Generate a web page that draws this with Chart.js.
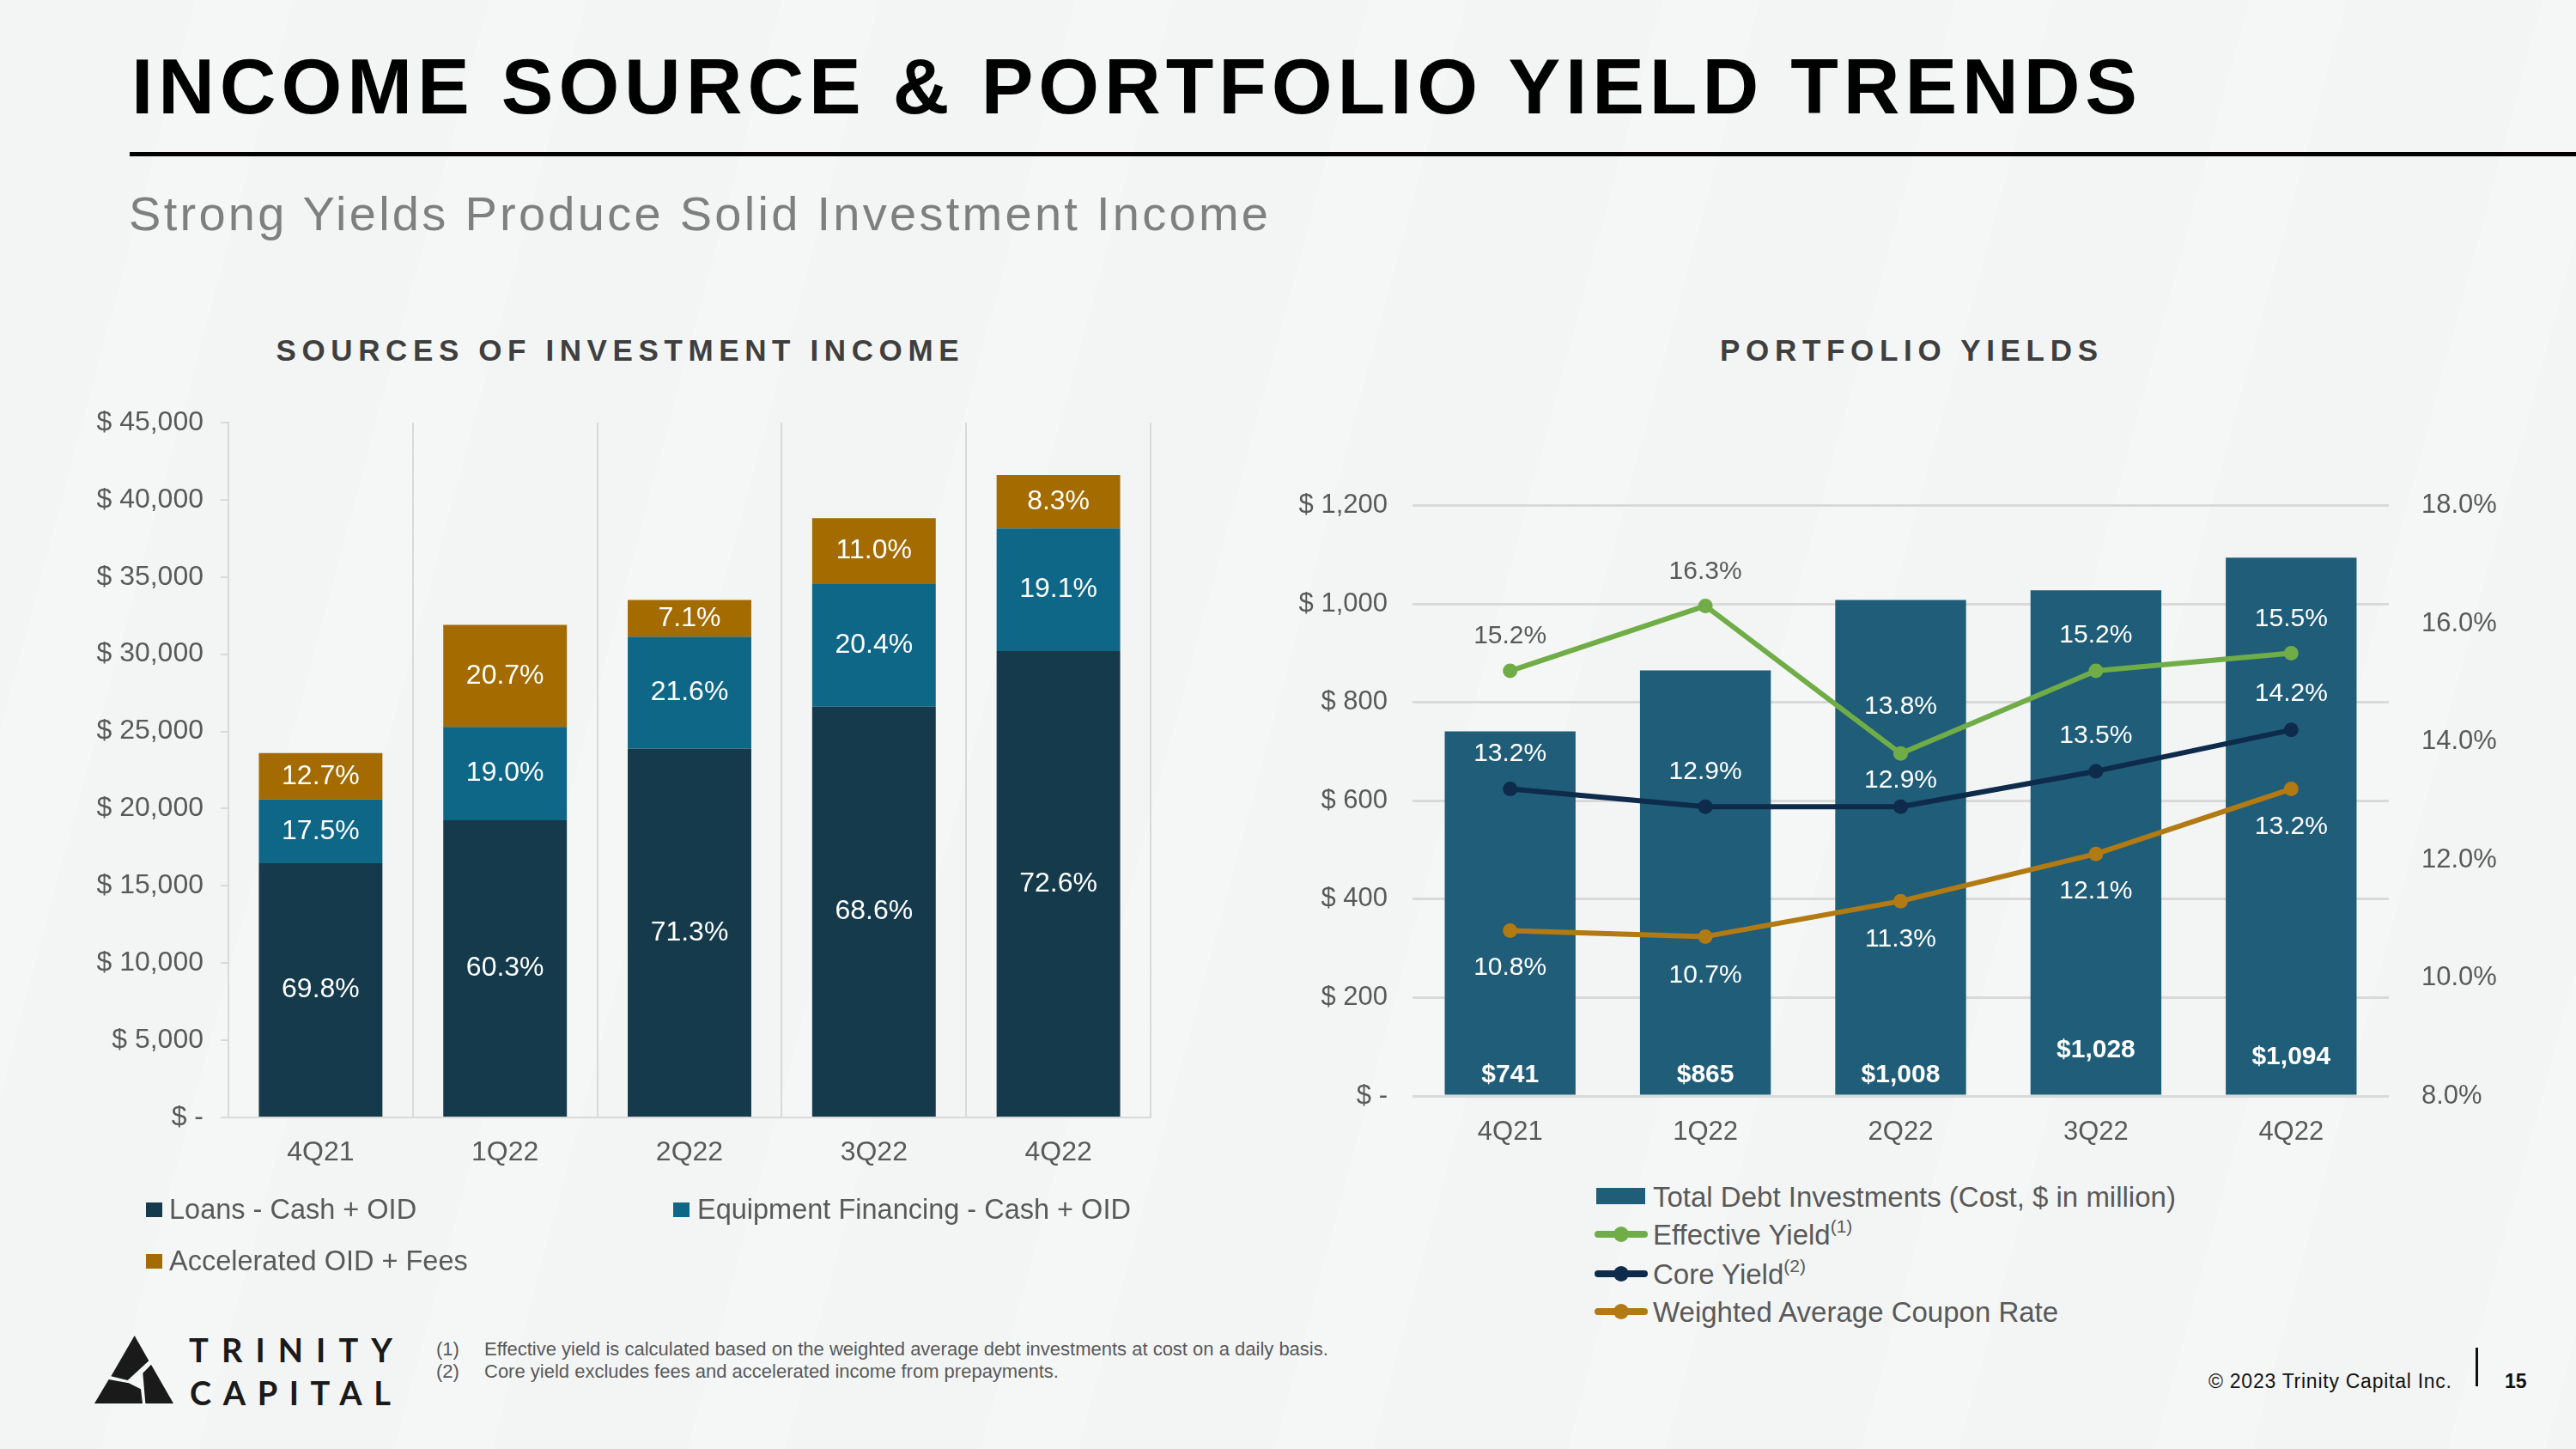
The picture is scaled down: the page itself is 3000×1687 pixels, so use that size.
<!DOCTYPE html>
<html>
<head>
<meta charset="utf-8">
<script src="https://cdn.jsdelivr.net/npm/chart.js@4.4.1/dist/chart.umd.min.js"></script>
<style>
html,body{margin:0;padding:0;}
body{width:3000px;height:1687px;position:relative;overflow:hidden;background:#f3f5f5;font-family:"Liberation Sans",Arial,sans-serif;}
.bg{position:absolute;left:0;top:0;width:3000px;height:1687px;background:repeating-linear-gradient(105deg, rgba(255,255,255,0) 0px, rgba(255,255,255,0) 220px, rgba(255,255,255,0.16) 220px, rgba(255,255,255,0.16) 330px);}
.t{position:absolute;white-space:nowrap;line-height:1;}
.sup{font-size:21px;position:relative;top:-14px;line-height:0;}
canvas{position:absolute;}
.rule{position:absolute;left:151px;top:177px;width:2849px;height:5px;background:#000;}
.sq{position:absolute;}
</style>
</head>
<body>
<div class="bg"></div>
<div class="rule"></div>
<canvas id="income" width="1380" height="1000" style="left:0px;top:452px;width:1380px;height:1000px;"></canvas>
<canvas id="yields" width="1560" height="820" style="left:1400px;top:540px;width:1560px;height:820px;"></canvas>

<svg style="position:absolute;left:90px;top:1530px;" width="400" height="130" viewBox="0 0 1200 390">
  <polygon fill="#1a1a1a" points="200,75 250,163 176,231 118,217"/>
  <polygon fill="#1a1a1a" points="258,176 336,312 238,312 229,206"/>
  <polygon fill="#1a1a1a" points="110,228 180,241 222,262 228,312 60,312"/>
</svg>

<script>
// ---------- DATA ----------
const quarters = ['4Q21', '1Q22', '2Q22', '3Q22', '4Q22'];

// Sources of investment income ($ thousands)
const loansIncome       = [16470, 19240, 23890, 26620, 30200];
const equipmentIncome   = [4130, 6060, 7240, 7920, 7950];
const acceleratedIncome = [3000, 6600, 2380, 4270, 3450];
// Share of income labels (%)
const loansPct       = [69.8, 60.3, 71.3, 68.6, 72.6];
const equipmentPct   = [17.5, 19.0, 21.6, 20.4, 19.1];
const acceleratedPct = [12.7, 20.7, 7.1, 11.0, 8.3];

// Portfolio yields
const totalDebtInvestments = [741, 865, 1008, 1028, 1094]; // $ million
const effectiveYield = [15.2, 16.3, 13.8, 15.2, 15.5];
const coreYield      = [13.2, 12.9, 12.9, 13.5, 14.2];
const couponRate     = [10.8, 10.7, 11.3, 12.1, 13.2];

// ---------- TEXT HELPERS ----------
const FAM = '"Liberation Sans", Arial, sans-serif';
function addText(html, x, base, size, o) {
  o = o || {};
  const d = document.createElement('div');
  d.className = 't';
  d.innerHTML = html;
  d.style.fontSize = size + 'px';
  d.style.top = (base - 0.8465 * size) + 'px';
  d.style.color = o.color || '#595959';
  d.style.fontWeight = o.weight || 'normal';
  d.style.fontFamily = o.family || FAM;
  d.style.left = '0px';
  document.body.appendChild(d);
  if (o.width) {
    const w0 = d.getBoundingClientRect().width;
    const n = d.textContent.length;
    d.style.letterSpacing = ((o.width - w0) / (n - 1)) + 'px';
  }
  const w = o.width || d.getBoundingClientRect().width;
  if (o.align === 'center') d.style.left = (x - w / 2) + 'px';
  else if (o.align === 'right') d.style.left = (x - w) + 'px';
  else d.style.left = x + 'px';
  return d;
}
function box(x, y, w, h, color) {
  const d = document.createElement('div');
  d.className = 'sq';
  Object.assign(d.style, {left: x + 'px', top: y + 'px', width: w + 'px', height: h + 'px', background: color});
  document.body.appendChild(d);
}
function lineMarker(x, cy, color) {
  const ns = 'http://www.w3.org/2000/svg';
  const s = document.createElementNS(ns, 'svg');
  s.setAttribute('width', '62'); s.setAttribute('height', '24');
  s.style.position = 'absolute'; s.style.left = (x - 2) + 'px'; s.style.top = (cy - 12) + 'px';
  s.innerHTML = '<line x1="4" y1="12" x2="58" y2="12" stroke="' + color + '" stroke-width="8" stroke-linecap="round"/>' +
                '<circle cx="31" cy="12" r="9" fill="' + color + '"/>';
  document.body.appendChild(s);
}

// ---------- STATIC TEXT ----------
addText('INCOME SOURCE &amp; PORTFOLIO YIELD TRENDS', 153, 132, 91, {weight: 'bold', color: '#000', width: 2336});
addText('Strong Yields Produce Solid Investment Income', 150, 268, 56, {color: '#7f7f7f', width: 1327});
addText('SOURCES OF INVESTMENT INCOME', 719, 420, 35, {weight: 'bold', color: '#3f3f3f', width: 795, align: 'center'});
addText('PORTFOLIO YIELDS', 2223, 420, 35, {weight: 'bold', color: '#3f3f3f', width: 440, align: 'center'});

// left legend
box(170, 1400, 19, 17, '#143a4b');
addText('Loans - Cash + OID', 197, 1419.5, 32.5);
box(784, 1400, 19, 17, '#0e6787');
addText('Equipment Financing - Cash + OID', 812, 1419.5, 32.5);
box(170, 1460, 19, 17, '#a36b00');
addText('Accelerated OID + Fees', 197, 1479.5, 32.5);

// right legend
box(1859, 1383, 57, 19, '#1f5d78');
addText('Total Debt Investments (Cost, $ in million)', 1925, 1405, 33);
lineMarker(1859, 1437, '#70ad47');
addText('Effective Yield<span class="sup">(1)</span>', 1925, 1449, 33);
lineMarker(1859, 1483, '#0e2b4b');
addText('Core Yield<span class="sup">(2)</span>', 1925, 1495, 33);
lineMarker(1859, 1527, '#b17a12');
addText('Weighted Average Coupon Rate', 1925, 1539, 33);

// footnotes
addText('(1)', 508, 1578.5, 22);
addText('Effective yield is calculated based on the weighted average debt investments at cost on a daily basis.', 564, 1578.5, 22);
addText('(2)', 508, 1604.5, 22);
addText('Core yield excludes fees and accelerated income from prepayments.', 564, 1604.5, 22);

// copyright / page
addText('© 2023 Trinity Capital Inc.', 2572, 1616, 23, {color: '#111', width: 283});
box(2883, 1569, 3, 45, '#111');
addText('15', 2917, 1616, 23, {color: '#111', weight: 'bold'});

// logo text
addText('TRINITY', 220, 1584, 38, {color: '#1a1a1a', weight: 'bold', family: 'Lato, "Liberation Sans", sans-serif', width: 237});
addText('CAPITAL', 221, 1634, 38, {color: '#1a1a1a', weight: 'bold', family: 'Lato, "Liberation Sans", sans-serif', width: 234});

// ---------- CHARTS ----------
const labelPlugin = {
  id: 'valueLabels',
  afterDatasetsDraw(chart, args, opts) {
    const ctx = chart.ctx;
    ctx.save();
    ctx.textAlign = 'center';
    ctx.textBaseline = 'middle';
    const barIdx = chart.data.datasets.findIndex(d => (d.type || chart.config.type) === 'bar');
    chart.data.datasets.forEach((ds, di) => {
      const meta = chart.getDatasetMeta(di);
      meta.data.forEach((el, i) => {
        let text, y, color = '#ffffff', font;
        if (ds.labelKind === 'segment') {
          text = ds.pct[i].toFixed(1) + '%';
          y = (el.y + el.base) / 2;
          font = '32px ' + FAM;
        } else if (ds.labelKind === 'money') {
          text = '$' + ds.data[i].toLocaleString('en-US');
          y = el.base - (ds.labelLift ? ds.labelLift[i] : 23);
          font = 'bold 30px ' + FAM;
        } else if (ds.labelKind === 'pct') {
          text = ds.data[i].toFixed(1) + '%';
          y = el.y + ds.labelOffset[i];
          font = '30px ' + FAM;
          const bar = chart.getDatasetMeta(barIdx).data[i];
          color = (y - 12 > bar.y) ? '#ffffff' : '#595959';
        } else return;
        ctx.font = font;
        ctx.fillStyle = color;
        ctx.fillText(text, el.x, y);
      });
    });
    ctx.restore();
  }
};

Chart.defaults.font.family = FAM;
Chart.defaults.color = '#595959';

new Chart(document.getElementById('income'), {
  type: 'bar',
  data: {
    labels: quarters,
    datasets: [
      {label: 'Loans - Cash + OID', data: loansIncome, pct: loansPct, labelKind: 'segment', backgroundColor: '#143a4b'},
      {label: 'Equipment Financing - Cash + OID', data: equipmentIncome, pct: equipmentPct, labelKind: 'segment', backgroundColor: '#0e6787'},
      {label: 'Accelerated OID + Fees', data: acceleratedIncome, pct: acceleratedPct, labelKind: 'segment', backgroundColor: '#a36b00'}
    ]
  },
  options: {
    responsive: false,
    animation: false,
    devicePixelRatio: 1,
    layout: {padding: {left: 0, top: 40, right: 40, bottom: 0}},
    plugins: {legend: {display: false}, tooltip: {enabled: false}},
    datasets: {bar: {barPercentage: 0.67, categoryPercentage: 1}},
    scales: {
      x: {
        stacked: true,
        grid: {display: true, drawTicks: false, color: '#d9d9d9', lineWidth: 2, offset: true},
        border: {display: true, color: '#d9d9d9', width: 2},
        ticks: {color: '#595959', font: {size: 32}, padding: 22},
        afterFit(s) { s.height = 151; }
      },
      y: {
        stacked: true, min: 0, max: 45000,
        ticks: {stepSize: 5000, color: '#595959', font: {size: 32}, padding: 20,
          callback: v => v === 0 ? '$ -' : '$ ' + v.toLocaleString('en-US')},
        grid: {drawOnChartArea: false, drawTicks: true, tickLength: 9, color: '#d9d9d9', lineWidth: 2},
        border: {display: true, color: '#d9d9d9', width: 2},
        afterFit(s) { s.width = 266; }
      }
    }
  },
  plugins: [labelPlugin]
});

const lineStyle = (color) => ({
  borderColor: color, backgroundColor: color, pointBackgroundColor: color, pointBorderColor: color,
  borderWidth: 6, pointRadius: 8.5, pointBorderWidth: 0, tension: 0, borderCapStyle: 'round', borderJoinStyle: 'round'
});

new Chart(document.getElementById('yields'), {
  type: 'bar',
  data: {
    labels: quarters,
    datasets: [
      Object.assign({type: 'line', label: 'Effective Yield', data: effectiveYield, yAxisID: 'y2', order: 1,
        labelKind: 'pct', labelOffset: [-40, -40, -55, -41, -40]}, lineStyle('#70ad47')),
      Object.assign({type: 'line', label: 'Core Yield', data: coreYield, yAxisID: 'y2', order: 2,
        labelKind: 'pct', labelOffset: [-41, -40, -30, -41, -42]}, lineStyle('#0e2b4b')),
      Object.assign({type: 'line', label: 'Weighted Average Coupon Rate', data: couponRate, yAxisID: 'y2', order: 3,
        labelKind: 'pct', labelOffset: [43, 45, 45, 44, 44]}, lineStyle('#b17a12')),
      {type: 'bar', label: 'Total Debt Investments (Cost, $ in million)', data: totalDebtInvestments, yAxisID: 'y', order: 10,
        backgroundColor: '#1f5d78', barPercentage: 0.67, categoryPercentage: 1, labelKind: 'money', labelLift: [23, 23, 23, 52, 44]}
    ]
  },
  options: {
    responsive: false,
    animation: false,
    devicePixelRatio: 1,
    layout: {padding: {left: 0, top: 41, right: 0, bottom: 0}},
    plugins: {legend: {display: false}, tooltip: {enabled: false}},
    scales: {
      x: {
        grid: {display: false},
        border: {display: false},
        ticks: {color: '#595959', font: {size: 31}, padding: 16},
        afterFit(s) { s.height = 84; }
      },
      y: {
        position: 'left', min: 0, max: 1200,
        ticks: {stepSize: 200, color: '#595959', font: {size: 31}, padding: 29,
          callback: v => v === 0 ? '$ -' : '$ ' + v.toLocaleString('en-US')},
        grid: {drawTicks: false, color: '#d9d9d9', lineWidth: 3},
        border: {display: false},
        afterFit(s) { s.width = 245; }
      },
      y2: {
        position: 'right', min: 8, max: 18,
        ticks: {stepSize: 2, color: '#595959', font: {size: 31}, padding: 30,
          callback: v => v.toFixed(1) + '%'},
        grid: {display: false, drawOnChartArea: false},
        border: {display: false},
        afterFit(s) { s.width = 178; }
      }
    }
  },
  plugins: [labelPlugin]
});
</script>
</body>
</html>
